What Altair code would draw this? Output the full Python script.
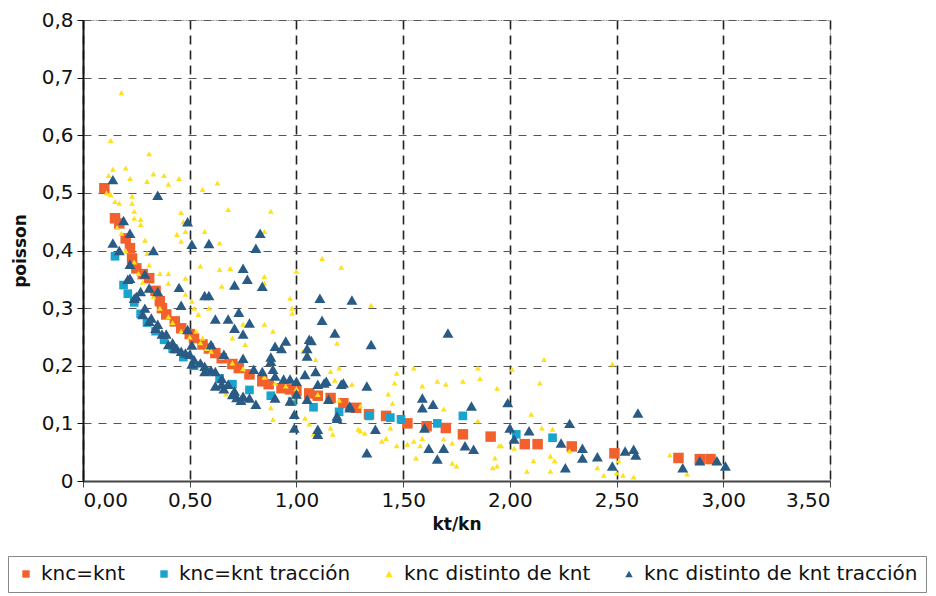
import altair as alt
import pandas as pd

SERIES = ["knc=knt", "knc=knt tracción", "knc distinto de knt", "knc distinto de knt tracción"]
COLORS = ["#F2602E", "#1AA3CC", "#FFE01A", "#2A5B85"]
SHAPES = ["square", "square", "triangle-up", "triangle-up"]

# knc=knt (orange squares)
s1_x = [0.10, 0.15, 0.17, 0.20, 0.22, 0.23, 0.25, 0.28, 0.31, 0.34, 0.36, 0.37, 0.39, 0.43, 0.46, 0.50,
        0.52, 0.56, 0.59, 0.62, 0.65, 0.70, 0.73, 0.78, 0.84, 0.87, 0.93, 0.97, 1.00, 1.06, 1.10, 1.16,
        1.22, 1.28, 1.34, 1.42, 1.52, 1.61, 1.70, 1.78, 1.91, 2.07, 2.13, 2.29, 2.49, 2.79, 2.89, 2.94]
s1_y = [0.508, 0.456, 0.447, 0.421, 0.404, 0.386, 0.369, 0.359, 0.352, 0.330, 0.312, 0.300, 0.289, 0.277,
        0.265, 0.255, 0.248, 0.237, 0.230, 0.222, 0.213, 0.203, 0.196, 0.185, 0.173, 0.168, 0.161, 0.159,
        0.156, 0.152, 0.148, 0.144, 0.135, 0.127, 0.116, 0.113, 0.100, 0.095, 0.092, 0.081, 0.077, 0.064,
        0.064, 0.060, 0.048, 0.040, 0.038, 0.038]

# knc=knt tracción (cyan squares)
s2_x = [0.15, 0.19, 0.21, 0.24, 0.27, 0.30, 0.34, 0.38, 0.42, 0.47, 0.52, 0.58, 0.64, 0.70, 0.78, 0.88,
        0.98, 1.08, 1.20, 1.34, 1.44, 1.49, 1.66, 1.78, 2.03, 2.20]
s2_y = [0.390, 0.340, 0.325, 0.310, 0.290, 0.275, 0.260, 0.245, 0.230, 0.215, 0.200, 0.190, 0.178, 0.168,
        0.158, 0.148, 0.138, 0.128, 0.120, 0.113, 0.110, 0.107, 0.100, 0.113, 0.081, 0.075]

# knc distinto de knt (small yellow)
s3_x = [0.18, 0.13, 0.31, 0.20, 0.14, 0.33, 0.38, 0.45, 0.22, 0.63, 0.30, 0.40, 0.56, 0.68, 0.88, 0.46,
        0.47, 0.48, 0.46, 0.57, 0.64, 0.44, 0.13, 0.15, 0.17, 0.23, 0.23, 0.24, 0.24, 0.27, 0.27, 0.29,
        0.85, 0.30, 0.31, 0.36, 0.40, 0.40, 0.55, 0.64, 0.69, 0.85, 0.65, 0.85, 0.97, 0.98, 0.98, 0.48,
        0.48, 0.51, 0.52, 0.54, 0.85, 0.89, 0.75, 0.70, 0.76, 0.59, 0.53, 0.56, 1.12, 1.21, 1.00, 1.35,
        1.19, 1.05, 1.03, 1.05, 1.09, 1.16, 1.20, 1.18, 1.26, 1.47, 1.46, 1.55, 1.59, 1.66, 1.70, 1.78,
        1.85, 1.86, 1.94, 1.43, 1.45, 1.69, 1.85, 1.29, 1.32, 1.42, 1.40, 1.44, 1.47, 1.52, 1.55, 1.58,
        1.59, 1.56, 1.69, 1.73, 1.73, 1.75, 1.95, 1.93, 1.94, 1.92, 1.17, 1.16, 1.08, 1.06, 1.04, 2.16,
        2.01, 2.14, 2.48, 2.10, 2.15, 2.20, 1.96, 2.02, 2.11, 2.08, 2.19, 2.21, 2.19, 2.28, 2.41, 2.44,
        2.51, 2.50, 2.53, 2.58, 2.75, 2.83, 0.67, 0.89, 0.88, 0.98, 1.30, 0.20, 0.24, 0.26, 0.28, 0.30,
        0.33, 0.36, 0.40, 0.42, 0.46, 0.50, 0.55, 0.58, 0.60, 0.65, 0.70, 0.75, 0.80, 0.85, 0.90, 0.95,
        1.00, 1.10, 1.20, 1.30, 0.12, 0.11, 0.16, 0.18]
s3_y = [0.674, 0.591, 0.568, 0.543, 0.541, 0.533, 0.530, 0.525, 0.525, 0.517, 0.520, 0.515, 0.506, 0.471,
        0.468, 0.466, 0.450, 0.433, 0.416, 0.433, 0.413, 0.428, 0.497, 0.485, 0.482, 0.494, 0.482, 0.468,
        0.456, 0.454, 0.445, 0.418, 0.433, 0.395, 0.375, 0.360, 0.360, 0.343, 0.373, 0.367, 0.369, 0.355,
        0.338, 0.343, 0.317, 0.300, 0.291, 0.352, 0.324, 0.312, 0.300, 0.289, 0.272, 0.260, 0.272, 0.248,
        0.237, 0.300, 0.260, 0.248, 0.386, 0.371, 0.364, 0.305, 0.239, 0.230, 0.225, 0.222, 0.211, 0.190,
        0.196, 0.175, 0.168, 0.187, 0.170, 0.196, 0.165, 0.173, 0.168, 0.173, 0.196, 0.178, 0.161, 0.151,
        0.135, 0.125, 0.104, 0.090, 0.083, 0.074, 0.069, 0.092, 0.061, 0.064, 0.069, 0.061, 0.074, 0.040,
        0.073, 0.066, 0.031, 0.026, 0.061, 0.040, 0.026, 0.023, 0.081, 0.092, 0.081, 0.099, 0.109, 0.211,
        0.194, 0.170, 0.203, 0.116, 0.092, 0.090, 0.061, 0.057, 0.035, 0.017, 0.043, 0.035, 0.017, 0.052,
        0.023, 0.010, 0.035, 0.014, 0.010, 0.007, 0.045, 0.012, 0.151, 0.107, 0.127, 0.144, 0.087, 0.400,
        0.380, 0.360, 0.345, 0.330, 0.320, 0.300, 0.285, 0.275, 0.260, 0.250, 0.240, 0.230, 0.225, 0.215,
        0.205, 0.195, 0.190, 0.180, 0.170, 0.165, 0.160, 0.150, 0.140, 0.130, 0.530, 0.500, 0.440, 0.430]

# knc distinto de knt tracción (dark blue triangles)
s4_x = [0.14, 0.35, 0.19, 0.49, 0.22, 0.14, 0.51, 0.59, 0.83, 0.81, 0.17, 0.33, 0.22, 0.29, 0.75, 0.22,
        0.71, 0.77, 0.84, 0.45, 0.57, 0.59, 0.27, 0.31, 0.35, 0.24, 0.46, 0.62, 0.68, 0.73, 0.71, 0.78,
        0.75, 0.49, 0.60, 0.95, 0.90, 0.51, 0.21, 0.25, 0.29, 0.28, 0.31, 0.32, 0.34, 0.35, 0.37, 0.39,
        0.40, 0.42, 0.43, 0.44, 0.46, 0.48, 0.50, 0.52, 0.55, 0.57, 0.60, 0.62, 0.65, 0.66, 0.68, 0.71,
        0.75, 0.75, 0.78, 0.80, 0.81, 0.84, 0.88, 0.89, 0.90, 0.90, 0.94, 0.97, 0.97, 1.00, 0.99, 0.99,
        1.00, 1.05, 1.04, 1.05, 1.05, 1.06, 1.07, 1.09, 1.10, 1.10, 1.10, 1.11, 1.12, 1.13, 1.15, 1.18,
        1.19, 1.21, 1.25, 1.26, 1.33, 1.33, 1.35, 1.37, 1.59, 1.59, 1.64, 1.71, 1.82, 1.99, 1.60, 1.62,
        1.69, 1.66, 1.79, 1.83, 2.00, 2.02, 2.09, 2.28, 2.24, 2.34, 2.34, 2.41, 2.26, 2.48, 2.54, 2.58,
        2.59, 2.60, 2.81, 2.89, 2.97, 3.01, 0.93, 0.88, 1.14, 1.22, 1.25, 1.19, 0.51, 0.57, 0.65, 0.71,
        0.62, 0.66, 0.70, 0.72, 0.74]
s4_y = [0.523, 0.496, 0.452, 0.450, 0.430, 0.413, 0.411, 0.412, 0.430, 0.404, 0.400, 0.400, 0.376, 0.359,
        0.369, 0.352, 0.340, 0.350, 0.338, 0.336, 0.322, 0.322, 0.329, 0.335, 0.329, 0.317, 0.305, 0.281,
        0.281, 0.293, 0.265, 0.274, 0.255, 0.263, 0.237, 0.243, 0.234, 0.236, 0.350, 0.320, 0.300, 0.289,
        0.277, 0.283, 0.265, 0.272, 0.255, 0.255, 0.237, 0.240, 0.230, 0.230, 0.225, 0.222, 0.220, 0.211,
        0.205, 0.199, 0.192, 0.190, 0.178, 0.220, 0.168, 0.156, 0.213, 0.147, 0.144, 0.194, 0.133, 0.190,
        0.208, 0.194, 0.182, 0.144, 0.177, 0.177, 0.139, 0.173, 0.116, 0.092, 0.151, 0.142, 0.185, 0.217,
        0.230, 0.246, 0.244, 0.190, 0.168, 0.090, 0.081, 0.317, 0.279, 0.170, 0.142, 0.257, 0.109, 0.168,
        0.127, 0.314, 0.049, 0.165, 0.237, 0.090, 0.144, 0.127, 0.133, 0.257, 0.130, 0.136, 0.092, 0.057,
        0.057, 0.038, 0.061, 0.055, 0.092, 0.073, 0.087, 0.100, 0.066, 0.057, 0.040, 0.042, 0.023, 0.026,
        0.052, 0.055, 0.045, 0.118, 0.023, 0.035, 0.035, 0.026, 0.230, 0.215, 0.173, 0.170, 0.130, 0.113,
        0.203, 0.190, 0.168, 0.151, 0.165, 0.160, 0.150, 0.145, 0.140]

X_TICKS = [0.0, 0.5, 1.0, 1.5, 2.0, 2.5, 3.0, 3.5]
Y_TICKS = [0.0, 0.1, 0.2, 0.3, 0.4, 0.5, 0.6, 0.7, 0.8]

FONT = "DejaVu Sans"


def frame(xs, ys, name):
    return pd.DataFrame({"x": xs, "y": ys, "series": name})


frames = [frame(s1_x, s1_y, SERIES[0]), frame(s2_x, s2_y, SERIES[1]),
          frame(s3_x, s3_y, SERIES[2]), frame(s4_x, s4_y, SERIES[3])]
sizes = [110, 75, 34, 120]

x_enc = alt.X("x:Q", title="kt/kn",
              scale=alt.Scale(domain=[0, 3.5], nice=False, zero=False),
              axis=alt.Axis(values=X_TICKS,
                            labelExpr="replace(format(datum.value, '.2f'), '.', ',')",
                            gridColor="#222222", gridDash=[9, 6], gridWidth=1.6,
                            domainColor="#444444", domainWidth=2,
                            tickColor="#444444", tickSize=6, labelPadding=3,
                            titlePadding=6))
y_enc = alt.Y("y:Q", title="poisson",
              scale=alt.Scale(domain=[0, 0.8], nice=False),
              axis=alt.Axis(values=Y_TICKS,
                            labelExpr="datum.value == 0 ? '0' : replace(format(datum.value, '.1f'), '.', ',')",
                            gridColor="#555555", gridDash=[8, 7], gridWidth=1,
                            domainColor="#111111", domainWidth=2,
                            tickColor="#111111", tickSize=6, labelPadding=4,
                            titlePadding=12))
legend = alt.Legend(title=None, orient="none", legendX=-75, legendY=536,
                    direction="horizontal", columns=4, labelLimit=0)
color_enc = alt.Color("series:N", scale=alt.Scale(domain=SERIES, range=COLORS), legend=legend)
shape_enc = alt.Shape("series:N", scale=alt.Scale(domain=SERIES, range=SHAPES), legend=legend)

layers = []
for df, sz in zip(frames, sizes):
    layers.append(
        alt.Chart(df).mark_point(filled=True, size=sz, opacity=1)
        .encode(x=x_enc, y=y_enc, color=color_enc, shape=shape_enc)
    )

chart = (
    alt.layer(*layers)
    .properties(width=747, height=461,
                autosize=alt.AutoSizeParams(type="none"),
                padding={"left": 75, "top": 12, "right": 98, "bottom": 115},
                background="white")
    .configure_view(stroke="#999999", strokeWidth=1, strokeDash=[2, 1])
    .configure_axis(labelFont=FONT, labelFontSize=20, labelColor="#111111",
                    titleFont=FONT, titleFontSize=17, titleFontWeight="bold", titleColor="#111111")
    .configure_legend(labelFont=FONT, labelFontSize=20, labelColor="#111111",
                      symbolSize=55, strokeColor="#888888", padding=8,
                      columnPadding=28, symbolOffset=0, labelOffset=5,
                      fillColor="white")
)

chart.save("out.html", embed_options={"renderer": "svg", "actions": False})
